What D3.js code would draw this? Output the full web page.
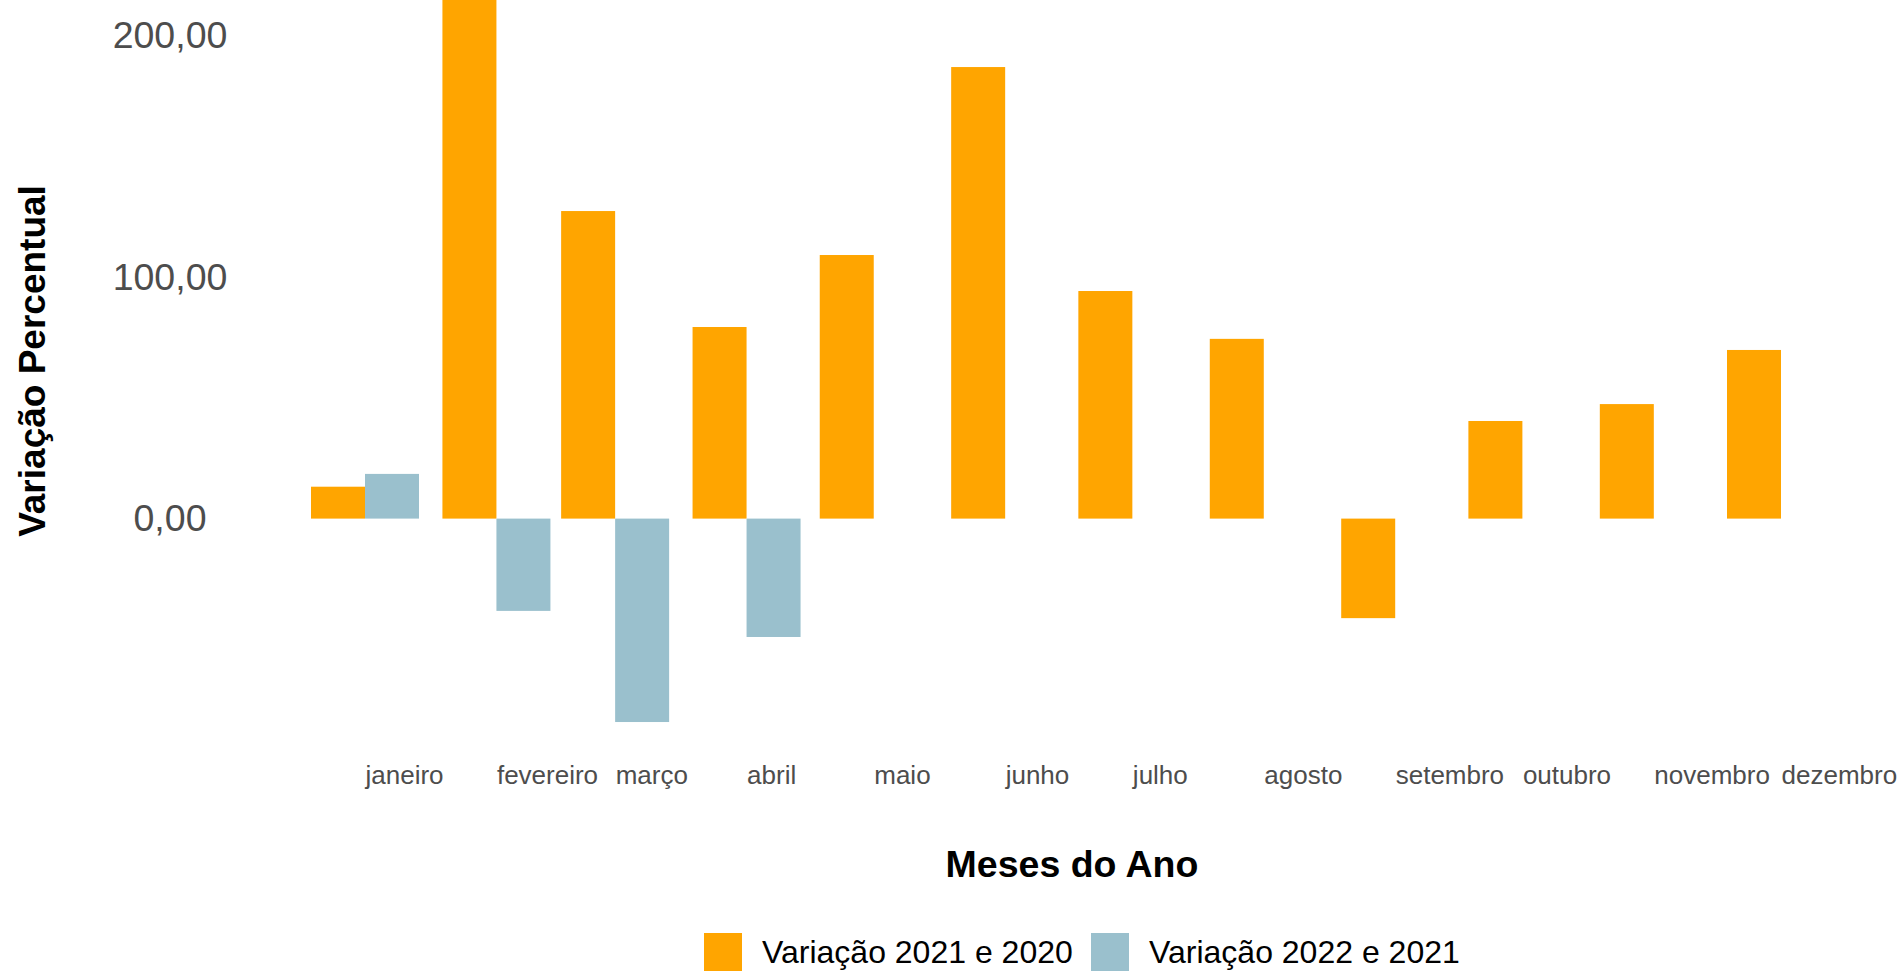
<!DOCTYPE html>
<html>
<head>
<meta charset="utf-8">
<script src="https://cdn.jsdelivr.net/npm/d3@7"></script>
<style>
    body { margin: 0; background: #ffffff; }
    svg { display: block; font-family: "Liberation Sans", Arial, sans-serif; }
</style>
</head>
<body>
<script>
// months (first day of each month, the x axis is a time axis)
const months = ['2021-01-01', '2021-02-01', '2021-03-01', '2021-04-01', '2021-05-01', '2021-06-01',
    '2021-07-01', '2021-08-01', '2021-09-01', '2021-10-01', '2021-11-01', '2021-12-01'];
const monthNames = ['janeiro', 'fevereiro', 'março', 'abril', 'maio', 'junho',
    'julho', 'agosto', 'setembro', 'outubro', 'novembro', 'dezembro'];

// variacao percentual
const var2021 = [13.2, 235, 127.3, 79.3, 109.1, 186.9, 94.2, 74.4, -41.2, 40.4, 47.4, 69.8];
const var2022 = [18.5, -38.2, -84.2, -49.0, null, null, null, null, null, null, null, null];

const seriesNames = ['Variação 2021 e 2020', 'Variação 2022 e 2021'];
const seriesColors = ['#FFA500', '#9AC0CD'];

const yTicks = [0, 100, 200];

const w = 1903;
const h = 971;

const parseDate = d3.timeParse('%Y-%m-%d');

// one row per month and series
let myDataSet = [];
months.forEach((m, i) => {
    myDataSet.push({ date: parseDate(m), series: seriesNames[0], value: var2021[i] });
    if (var2022[i] !== null) {
        myDataSet.push({ date: parseDate(m), series: seriesNames[1], value: var2022[i] });
    }
});

const svg = d3.select('body')
    .append('svg')
    .attr('width', w)
    .attr('height', h);

// x is a time scale, so months are not evenly spaced
const xScale = d3.scaleTime()
    .domain([parseDate(months[0]), parseDate(months[months.length - 1])])
    .range([365, 1781]);

// dodge inside each month
const xSub = d3.scaleBand()
    .domain(seriesNames)
    .range([-54, 54]);

const yScale = d3.scaleLinear()
    .domain([0, 200])
    .range([518.6, 35.4]);

const colorScale = d3.scaleOrdinal()
    .domain(seriesNames)
    .range(seriesColors);

// bars
svg.append('g')
    .selectAll('rect')
    .data(myDataSet)
    .enter()
    .append('rect')
    .attr('x', d => xScale(d.date) + xSub(d.series))
    .attr('width', xSub.bandwidth())
    .attr('y', d => yScale(Math.max(0, d.value)))
    .attr('height', d => Math.abs(yScale(d.value) - yScale(0)))
    .attr('fill', d => colorScale(d.series));

// y axis, labels only (centred on one x like the original)
const yAxis = d3.axisLeft(yScale)
    .tickValues(yTicks)
    .tickSize(0)
    .tickPadding(0)
    .tickFormat(d => d3.format('.2f')(d).replace('.', ','));

const yAxisG = svg.append('g')
    .attr('transform', 'translate(170,0)')
    .call(yAxis);
yAxisG.select('.domain').remove();
yAxisG.selectAll('text')
    .attr('text-anchor', 'middle')
    .attr('fill', '#4d4d4d')
    .style('font-size', '37.5px')
    .style('font-family', '"Liberation Sans", Arial, sans-serif');

// x axis, labels start at the month position
const xAxis = d3.axisBottom(xScale)
    .tickValues(months.map(parseDate))
    .tickSize(0)
    .tickPadding(0)
    .tickFormat((d, i) => monthNames[i]);

const xAxisG = svg.append('g')
    .attr('transform', 'translate(0,766)')
    .call(xAxis);
xAxisG.select('.domain').remove();
xAxisG.selectAll('text')
    .attr('text-anchor', 'start')
    .attr('dy', '0.71em')
    .attr('fill', '#4d4d4d')
    .style('font-size', '26px')
    .style('font-family', '"Liberation Sans", Arial, sans-serif');

// axis titles
svg.append('text')
    .attr('x', 1072)
    .attr('y', 877)
    .attr('text-anchor', 'middle')
    .style('font-size', '37.5px')
    .style('font-weight', 'bold')
    .text('Meses do Ano');

svg.append('text')
    .attr('transform', 'translate(45,361) rotate(-90)')
    .attr('text-anchor', 'middle')
    .style('font-size', '37px')
    .style('font-weight', 'bold')
    .text('Variação Percentual');

// legend
const legendX = [704, 1091];
const legend = svg.append('g')
    .selectAll('g')
    .data(seriesNames)
    .enter()
    .append('g')
    .attr('transform', (d, i) => `translate(${legendX[i]},933)`);

legend.append('rect')
    .attr('width', 38)
    .attr('height', 38)
    .attr('fill', d => colorScale(d));

legend.append('text')
    .attr('x', 58)
    .attr('y', 30)
    .style('font-size', '32px')
    .text(d => d);
</script>
</body>
</html>
